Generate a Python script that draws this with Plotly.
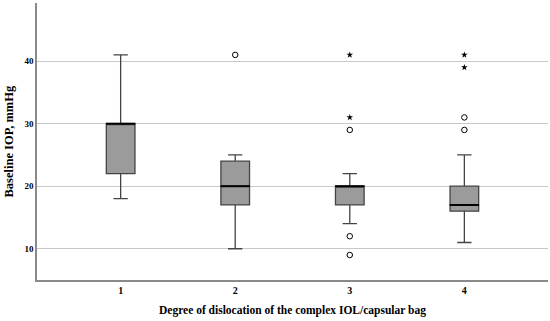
import plotly.graph_objects as go

categories = [1, 2, 3, 4]
q1 = [22, 17, 17, 16]
median = [30, 20, 20, 17]
q3 = [30, 24, 20, 20]
lower_whisker = [18, 10, 14, 11]
upper_whisker = [41, 25, 22, 25]

# outliers (circles) and extremes (stars)
circle_x = [2, 3, 3, 3, 4, 4]
circle_y = [41, 29, 12, 9, 31, 29]
star_x = [3, 3, 4, 4]
star_y = [41, 31, 41, 39]

y_ticks = [10, 20, 30, 40]

FONT = "Liberation Serif"

fig = go.Figure()
fig.add_trace(go.Box(
    x=categories, q1=q1, median=median, q3=q3,
    lowerfence=lower_whisker, upperfence=upper_whisker,
    fillcolor="#9b9b9b", line=dict(color="#444444", width=1.3),
    width=0.25, whiskerwidth=0.5, boxpoints=False, showlegend=False,
    hoverinfo="skip",
))
# thicker median line
fig.add_trace(go.Scatter(
    x=categories, y=median, mode="markers",
    marker=dict(symbol="line-ew", size=21, line=dict(color="#000000", width=2)),
    showlegend=False, hoverinfo="skip",
))
fig.add_trace(go.Scatter(
    x=circle_x, y=circle_y, mode="markers",
    marker=dict(symbol="circle-open", size=5.5, color="#000000", line=dict(width=1)),
    showlegend=False,
))
fig.add_trace(go.Scatter(
    x=star_x, y=star_y, mode="markers",
    marker=dict(symbol="star", size=5, color="#000000"),
    showlegend=False,
))

fig.update_layout(
    width=550, height=321,
    margin=dict(l=37, r=2, t=3, b=41),
    plot_bgcolor="white", paper_bgcolor="white",
    font=dict(family=FONT, color="#000000"),
    annotations=[
        dict(text="<b>Degree of dislocation of the complex IOL/capsular bag</b>",
             xref="paper", yref="paper", x=0.5, y=0, yshift=-30, yanchor="middle",
             showarrow=False, font=dict(family=FONT, size=11.5)),
        dict(text="<b>Baseline IOP, mmHg</b>", textangle=-90,
             xref="paper", yref="paper", x=0, y=0.5, xshift=-29, xanchor="center",
             showarrow=False, font=dict(family=FONT, size=12.5)),
    ],
)
fig.update_xaxes(
    range=[0.27, 4.73], tickvals=categories, ticktext=[f"<b>{c}</b>" for c in categories],
    showgrid=False, zeroline=False, showline=True, linecolor="#8a8a8a", linewidth=1.5,
    ticks="", ticklen=0, tickfont=dict(family=FONT, size=10, color="#000"),
    automargin=False,
)
fig.update_yaxes(
    range=[5, 49.3], tickvals=y_ticks, ticktext=[f"<b>{t}</b>" for t in y_ticks],
    showgrid=True, gridcolor="#c8c8c8", gridwidth=1.3, zeroline=False,
    showline=True, linecolor="#8a8a8a", linewidth=1.5, ticks="",
    tickfont=dict(family=FONT, size=9, color="#000"),
    automargin=False,
)

fig.write_html(
    "out.html",
    config={"displayModeBar": False},
    post_script="document.body.style.margin='0';document.body.style.overflow='hidden';",
)
